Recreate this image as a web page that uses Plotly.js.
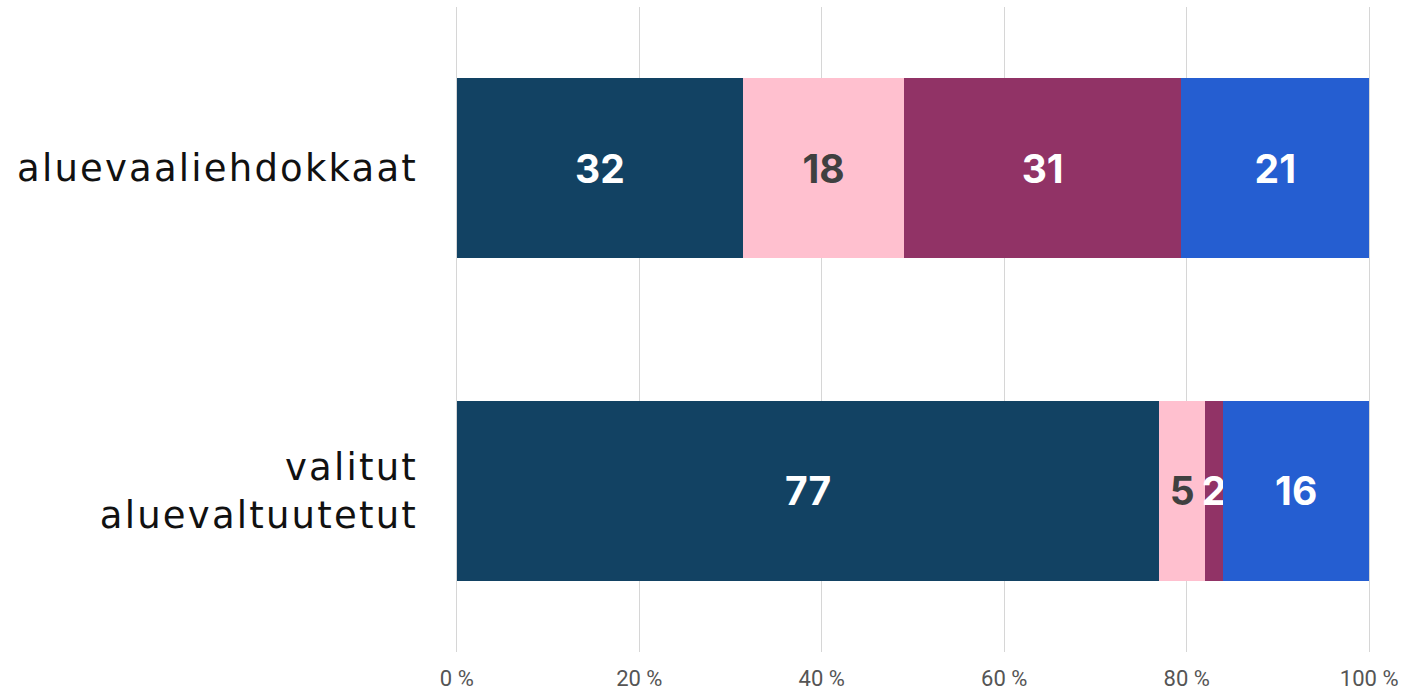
<!DOCTYPE html>
<html>
<head>
<meta charset="utf-8">
<script src="https://cdn.plot.ly/plotly-3.0.1.min.js"></script>
<style>
html,body{margin:0;padding:0;background:#fff;}
#chart{width:1407px;height:693px;}
#chart .yaxislayer-above text{letter-spacing:2.2px;}
</style>
</head>
<body>
<div id="chart"></div>
<script>
const categories = ["aluevaaliehdokkaat", "valitut<br>aluevaltuutetut"];
const seriesNames = ["s1", "s2", "s3", "s4"];
const s1 = [32, 77];
const s2 = [18, 5];
const s3 = [31, 2];
const s4 = [21, 16];
const colors = ["#124263", "#FFC0CF", "#913366", "#255ED1"];
const textColors = ["#ffffff", "#404040", "#ffffff", "#ffffff"];
const tickVals = [0, 20, 40, 60, 80, 100];
const tickText = ["0 %", "20 %", "40 %", "60 %", "80 %", "100 %"];

const series = [s1, s2, s3, s4];
const traces = series.map((vals, i) => ({
  type: "bar",
  orientation: "h",
  name: seriesNames[i],
  y: categories,
  x: vals,
  text: vals.map(String),
  textposition: "inside",
  insidetextanchor: "middle",
  constraintext: "none",
  textangle: 0,
  insidetextfont: {family: "Inter, Roboto, sans-serif", size: 39, color: textColors[i], weight: 700},
  marker: {color: colors[i], line: {width: 0}},
  hoverinfo: "skip"
}));

const layout = {
  width: 1407,
  height: 693,
  margin: {l: 455, r: 36, t: 7, b: 41},
  barmode: "stack",
  barnorm: "percent",
  bargap: 0.443,
  showlegend: false,
  paper_bgcolor: "#ffffff",
  plot_bgcolor: "#ffffff",
  xaxis: {
    range: [-0.2, 100.2],
    tickvals: tickVals,
    ticktext: tickText,
    showgrid: true,
    gridcolor: "#d6d6d6",
    gridwidth: 1,
    zeroline: false,
    showline: false,
    ticks: "",
    ticklabelstandoff: 11,
    tickfont: {family: "Roboto, sans-serif", size: 22, color: "#555555"}
  },
  yaxis: {
    autorange: "reversed",
    showgrid: false,
    zeroline: false,
    showline: false,
    ticks: "",
    ticklabelstandoff: 36,
    tickfont: {family: "'DejaVu Sans', sans-serif", size: 37, color: "#111111"}
  }
};

Plotly.newPlot("chart", traces, layout, {displayModeBar: false, staticPlot: true});
</script>
</body>
</html>
